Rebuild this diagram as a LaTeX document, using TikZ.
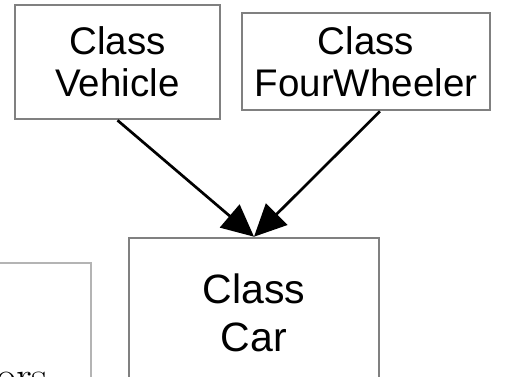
\documentclass[tikz,border=0pt]{standalone}
\usepackage{fontspec}
\setsansfont{Liberation Sans}
\usetikzlibrary{arrows.meta}
\definecolor{boxgray}{HTML}{808080}
\definecolor{lightgray2}{HTML}{B4B4B4}
\begin{document}
\begin{tikzpicture}[x=1pt,y=1pt,
  box/.style={draw=boxgray, line width=2.6pt, align=center, inner sep=0pt, font=\sffamily},
  conn/.style={draw=black, line width=2.7pt, -{Triangle[length=32pt,width=30pt]}}]
\useasboundingbox (0,0) rectangle (505,376);
\clip (0,0) rectangle (505,376);
% partial box at lower left
\node[draw=lightgray2, line width=2.6pt, minimum width=110pt, minimum height=140pt, inner sep=0pt] (side) at (36,43) {};
\node[anchor=base west, inner sep=0pt, font=\rmfamily\fontsize{44}{50}\selectfont] (orstext) at (-4,-15) {ors};
% top boxes
\node[box, minimum width=205pt, minimum height=114pt, font=\sffamily\fontsize{38.5}{42}\selectfont] (veh) at (117.5,314) {Class\\Vehicle};
\node[box, minimum width=248pt, minimum height=97pt, font=\sffamily\fontsize{38.5}{42}\selectfont] (fw) at (366,314.5) {Class\\FourWheeler};
% bottom box
\node[box, minimum width=250pt, minimum height=150pt, font=\sffamily\fontsize{41}{48}\selectfont] (car) at (254,63) {Class\\Car};
% connectors
\coordinate (fwout) at ([xshift=14pt]fw.south);
\draw[conn] (veh.south) -- (car.north);
\draw[conn] (fwout) -- (car.north);
\end{tikzpicture}
\end{document}
